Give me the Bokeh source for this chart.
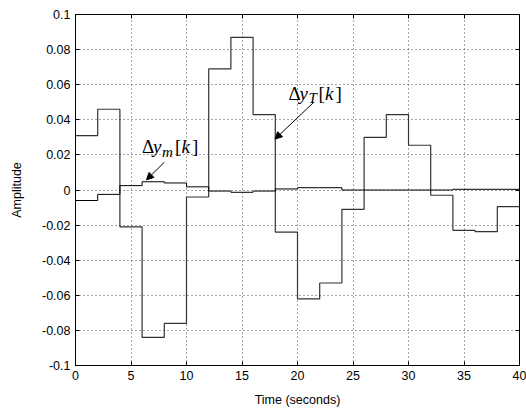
from bokeh.plotting import figure
from bokeh.models import FixedTicker, LinearAxis, Label, Arrow, NormalHead, Range1d
from bokeh.embed import file_html
from bokeh.resources import INLINE

# step start times (seconds) and final edge
time = [0, 2, 4, 6, 8, 10, 12, 14, 16, 18, 20, 22, 24, 26, 28, 30, 32, 34, 36, 38, 40]
delta_yT = [0.031, 0.046, -0.021, -0.084, -0.076, -0.004, 0.069, 0.087, 0.043, -0.024,
            -0.062, -0.053, -0.011, 0.030, 0.043, 0.0255, -0.003, -0.023, -0.0237, -0.0095]
delta_ym = [-0.006, -0.0025, 0.0025, 0.0047, 0.004, 0.0018, -0.0006, -0.0013, -0.0006, 0.0006,
            0.0013, 0.0013, 0.0, 0.0, 0.0, 0.0, 0.0, 0.0004, 0.0004, 0.0004]
x_ticks = [0, 5, 10, 15, 20, 25, 30, 35, 40]
y_ticks = [-0.1, -0.08, -0.06, -0.04, -0.02, 0, 0.02, 0.04, 0.06, 0.08, 0.1]
y_tick_labels = ["-0.1", "-0.08", "-0.06", "-0.04", "-0.02", "0", "0.02", "0.04", "0.06", "0.08", "0.1"]

FONT = "Liberation Sans"
SERIF = "Liberation Serif"

p = figure(width=526, height=409, x_range=Range1d(0, 40), y_range=Range1d(-0.1, 0.1),
           output_backend="svg", toolbar_location=None,
           min_border_left=75, min_border_right=7, min_border_top=14, min_border_bottom=43,
           x_axis_label="Time (seconds)", y_axis_label="Amplitude")
p.background_fill_color = "white"
p.border_fill_color = "white"
p.outline_line_color = "black"
p.outline_line_width = 1

# stairs: repeat the last value at the final edge
p.step(x=time, y=delta_yT + [delta_yT[-1]], mode="after", line_color="#333333", line_width=1.2)
p.step(x=time, y=delta_ym + [delta_ym[-1]], mode="after", line_color="black", line_width=1)

xt = FixedTicker(ticks=x_ticks)
yt = FixedTicker(ticks=y_ticks)
overrides = {t: l for t, l in zip(y_ticks, y_tick_labels)}

for ax in p.xaxis:
    ax.ticker = xt
for ax in p.yaxis:
    ax.ticker = yt
    ax.major_label_overrides = overrides

for ax in list(p.xaxis) + list(p.yaxis):
    ax.axis_line_color = "black"
    ax.major_tick_line_color = "black"
    ax.major_tick_in = 4
    ax.major_tick_out = 0
    ax.minor_tick_line_color = None
    ax.major_label_text_font = FONT
    ax.major_label_text_font_size = "12.5px"
    ax.major_label_text_color = "black"
    ax.axis_label_text_font = FONT
    ax.axis_label_text_font_size = "12.5px"
    ax.axis_label_text_font_style = "normal"
    ax.axis_label_text_color = "black"
p.xaxis.major_label_standoff = 5
p.xaxis.axis_label_standoff = 10
p.yaxis.major_label_standoff = 5
p.yaxis.axis_label_standoff = 15

top = LinearAxis(ticker=xt, major_label_overrides={t: "" for t in x_ticks},
                 major_label_standoff=0,
                 major_tick_in=4, major_tick_out=0, minor_tick_line_color=None,
                 axis_line_color="black")
right = LinearAxis(ticker=yt, major_label_overrides={t: "" for t in y_ticks},
                   major_label_standoff=0,
                   major_tick_in=4, major_tick_out=0, minor_tick_line_color=None,
                   axis_line_color="black")
p.add_layout(top, "above")
p.add_layout(right, "right")

p.xgrid.ticker = xt
p.ygrid.ticker = yt
p.grid.grid_line_color = "black"
p.grid.grid_line_alpha = 0.7
p.grid.grid_line_dash = "1 3"
p.grid.grid_line_width = 1


def math_label(x, y, pieces):
    for txt, dx, dy, style, size in pieces:
        p.add_layout(Label(x=x, y=y, x_offset=dx, y_offset=dy, text=txt,
                           text_font=SERIF, text_font_style=style,
                           text_font_size=size, text_color="black",
                           text_baseline="alphabetic", text_align="left"))


math_label(6.0, 0.0246, [
    ("Δ", 0, 0, "normal", "19px"),
    ("y", 11, 0, "italic", "19px"),
    ("m", 20, -5, "italic", "15px"),
    ("[", 33, 0, "normal", "19px"),
    ("k", 39.5, 0, "italic", "19px"),
    ("]", 50, 0, "normal", "19px"),
])
math_label(19.2, 0.055, [
    ("Δ", 0, 0, "normal", "19px"),
    ("y", 11, 0, "italic", "19px"),
    ("T", 20, -5, "italic", "15px"),
    ("[", 30, 0, "normal", "19px"),
    ("k", 36.5, 0, "italic", "19px"),
    ("]", 47, 0, "normal", "19px"),
])

p.add_layout(Arrow(x_start=8.0, y_start=0.0158, x_end=6.4, y_end=0.0058,
                   line_color="black", line_width=1,
                   end=NormalHead(size=7, fill_color="black", line_color="black")))
p.add_layout(Arrow(x_start=21.5, y_start=0.0502, x_end=17.97, y_end=0.029,
                   line_color="black", line_width=1,
                   end=NormalHead(size=7, fill_color="black", line_color="black")))

open("out.html", "w").write(file_html(p, INLINE))
